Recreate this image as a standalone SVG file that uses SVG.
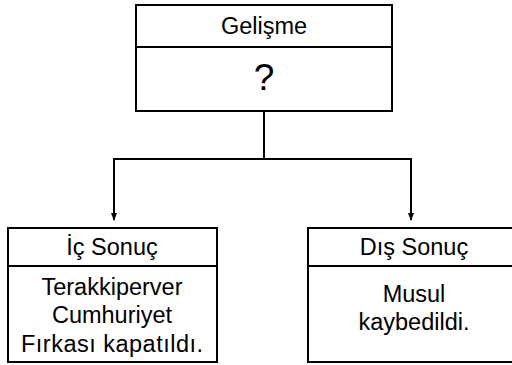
<svg xmlns="http://www.w3.org/2000/svg" width="512" height="365" viewBox="0 0 512 365">
<style>
.box{fill:#fff;stroke:#000;stroke-width:2}
.ln{fill:none;stroke:#000;stroke-width:2}
text{font-family:"Liberation Sans",Arial,sans-serif;font-size:23.5px;fill:#000;text-anchor:middle}
</style>
<defs>
<marker id="arr" markerWidth="8" markerHeight="10" refX="7" refY="4" orient="auto" markerUnits="userSpaceOnUse" viewBox="0 0 8 8">
<path d="M0,1 L8,4 L0,7 z" fill="#000"/>
</marker>
</defs>
<rect width="512" height="365" fill="#fff"/>
<g id="connectors">
<path class="ln" d="M264,111 V159"/>
<path class="ln" d="M114,159 H411"/>
<path class="ln" d="M114,158 V220" marker-end="url(#arr)"/>
<path class="ln" d="M411,158 V220" marker-end="url(#arr)"/>
</g>
<g id="gelisme">
<rect class="box" x="136" y="5" width="256" height="106"/>
<line class="ln" x1="136" y1="47" x2="392" y2="47"/>
<text x="264" y="34">Gelişme</text>
<text x="264" y="90" style="font-size:37px">?</text>
</g>
<g id="ic-sonuc">
<rect class="box" x="8" y="228" width="209" height="134"/>
<line class="ln" x1="8" y1="266" x2="217" y2="266"/>
<text x="112" y="255">İç Sonuç</text>
<text x="112" y="295">Terakkiperver</text>
<text x="112" y="323">Cumhuriyet</text>
<text x="112" y="352" textLength="182" lengthAdjust="spacing">Fırkası kapatıldı.</text>
</g>
<g id="dis-sonuc">
<rect class="box" x="308" y="228" width="212" height="134"/>
<line class="ln" x1="308" y1="266" x2="520" y2="266"/>
<text x="414" y="255">Dış Sonuç</text>
<text x="414" y="302">Musul</text>
<text x="414" y="330">kaybedildi.</text>
</g>
</svg>
